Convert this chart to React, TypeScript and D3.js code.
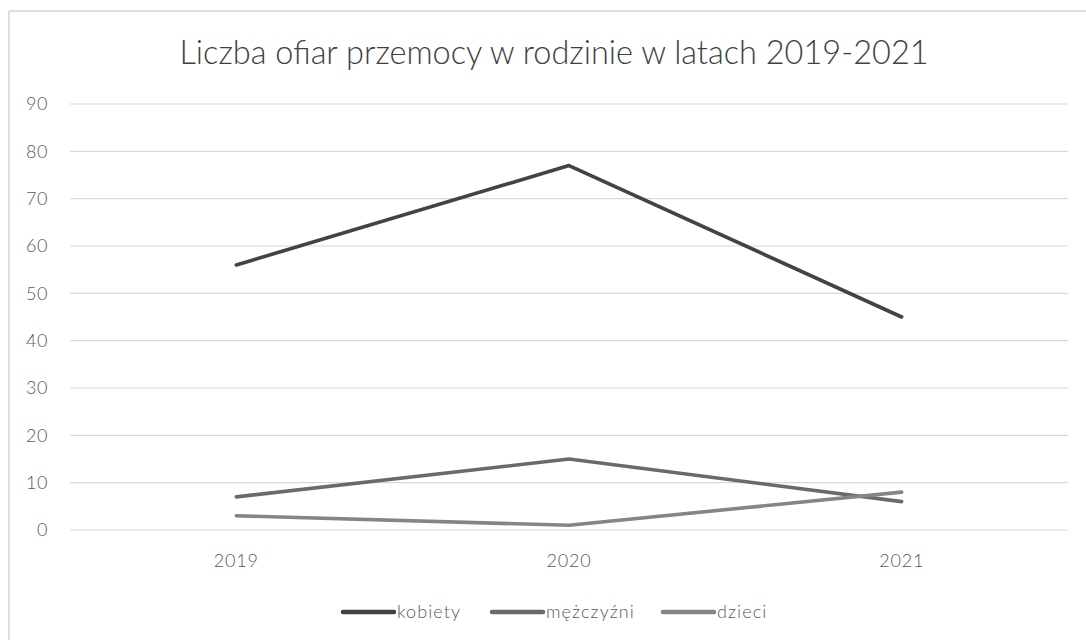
import React from 'react';
import * as d3 from 'd3';

const years = ['2019', '2020', '2021'];
const kobiety = [56, 77, 45];
const mezczyzni = [7, 15, 6];
const dzieci = [3, 1, 8];
const yTicks = [0, 10, 20, 30, 40, 50, 60, 70, 80, 90];

const series = [
  { name: 'kobiety', values: kobiety, color: '#434343' },
  { name: 'mężczyźni', values: mezczyzni, color: '#6a6a6a' },
  { name: 'dzieci', values: dzieci, color: '#858585' },
];

const width = 1086;
const height = 640;
const margin = { top: 104, right: 18, bottom: 110, left: 70 };
const font = 'Lato, "Open Sans", sans-serif';

export default function App() {
  const x = d3
    .scaleBand<string>()
    .domain(years)
    .range([margin.left, width - margin.right]);

  const y = d3
    .scaleLinear()
    .domain([0, 90])
    .range([height - margin.bottom, margin.top]);

  const line = d3
    .line<number>()
    .x((_, i) => (x(years[i]) ?? 0) + x.bandwidth() / 2)
    .y(d => y(d));

  const legendX = [343, 492, 663];

  return (
    <div style={{ position: 'absolute', left: 0, top: 0 }}>
      <svg width={width} height={height} style={{ display: 'block', background: '#fff' }}>
        {/* chart frame (only top and left edges show) */}
        <line x1={9} y1={11} x2={width} y2={11} stroke="#d4d4d4" strokeWidth={1.5} />
        <line x1={9} y1={11} x2={9} y2={height} stroke="#d4d4d4" strokeWidth={1.5} />

        <text
          x={554}
          y={64}
          textAnchor="middle"
          fontFamily={font}
          fontSize={32.5}
          fontWeight={300}
          fill="#404040"
        >
          Liczba ofiar przemocy w rodzinie w latach 2019-2021
        </text>

        {/* grid */}
        {yTicks.map(t => (
          <g key={t}>
            <line
              x1={margin.left}
              x2={width - margin.right}
              y1={y(t)}
              y2={y(t)}
              stroke="#d9d9d9"
              strokeWidth={1.2}
            />
            <text
              x={48}
              y={y(t)}
              dy="0.36em"
              textAnchor="end"
              fontFamily={font}
              fontSize={18}
              fontWeight={300}
              letterSpacing={0.5}
              fill="#595959"
            >
              {t}
            </text>
          </g>
        ))}

        {/* x labels */}
        {years.map(yr => (
          <text
            key={yr}
            x={(x(yr) ?? 0) + x.bandwidth() / 2}
            y={567}
            textAnchor="middle"
            fontFamily={font}
            fontSize={18}
            fontWeight={300}
            letterSpacing={0.8}
            fill="#595959"
          >
            {yr}
          </text>
        ))}

        {/* series */}
        {series.map(s => (
          <path
            key={s.name}
            d={line(s.values) || ''}
            fill="none"
            stroke={s.color}
            strokeWidth={3.6}
            strokeLinejoin="round"
            strokeLinecap="round"
          />
        ))}

        {/* legend */}
        {series.map((s, i) => (
          <g key={s.name} transform={`translate(${legendX[i]},612)`}>
            <line x1={0} x2={51} y1={0} y2={0} stroke={s.color} strokeWidth={4.5} strokeLinecap="round" />
            <text x={54} y={6} fontFamily={font} fontSize={18} fontWeight={300} letterSpacing={1.1} fill="#595959">
              {s.name}
            </text>
          </g>
        ))}
      </svg>
    </div>
  );
}
